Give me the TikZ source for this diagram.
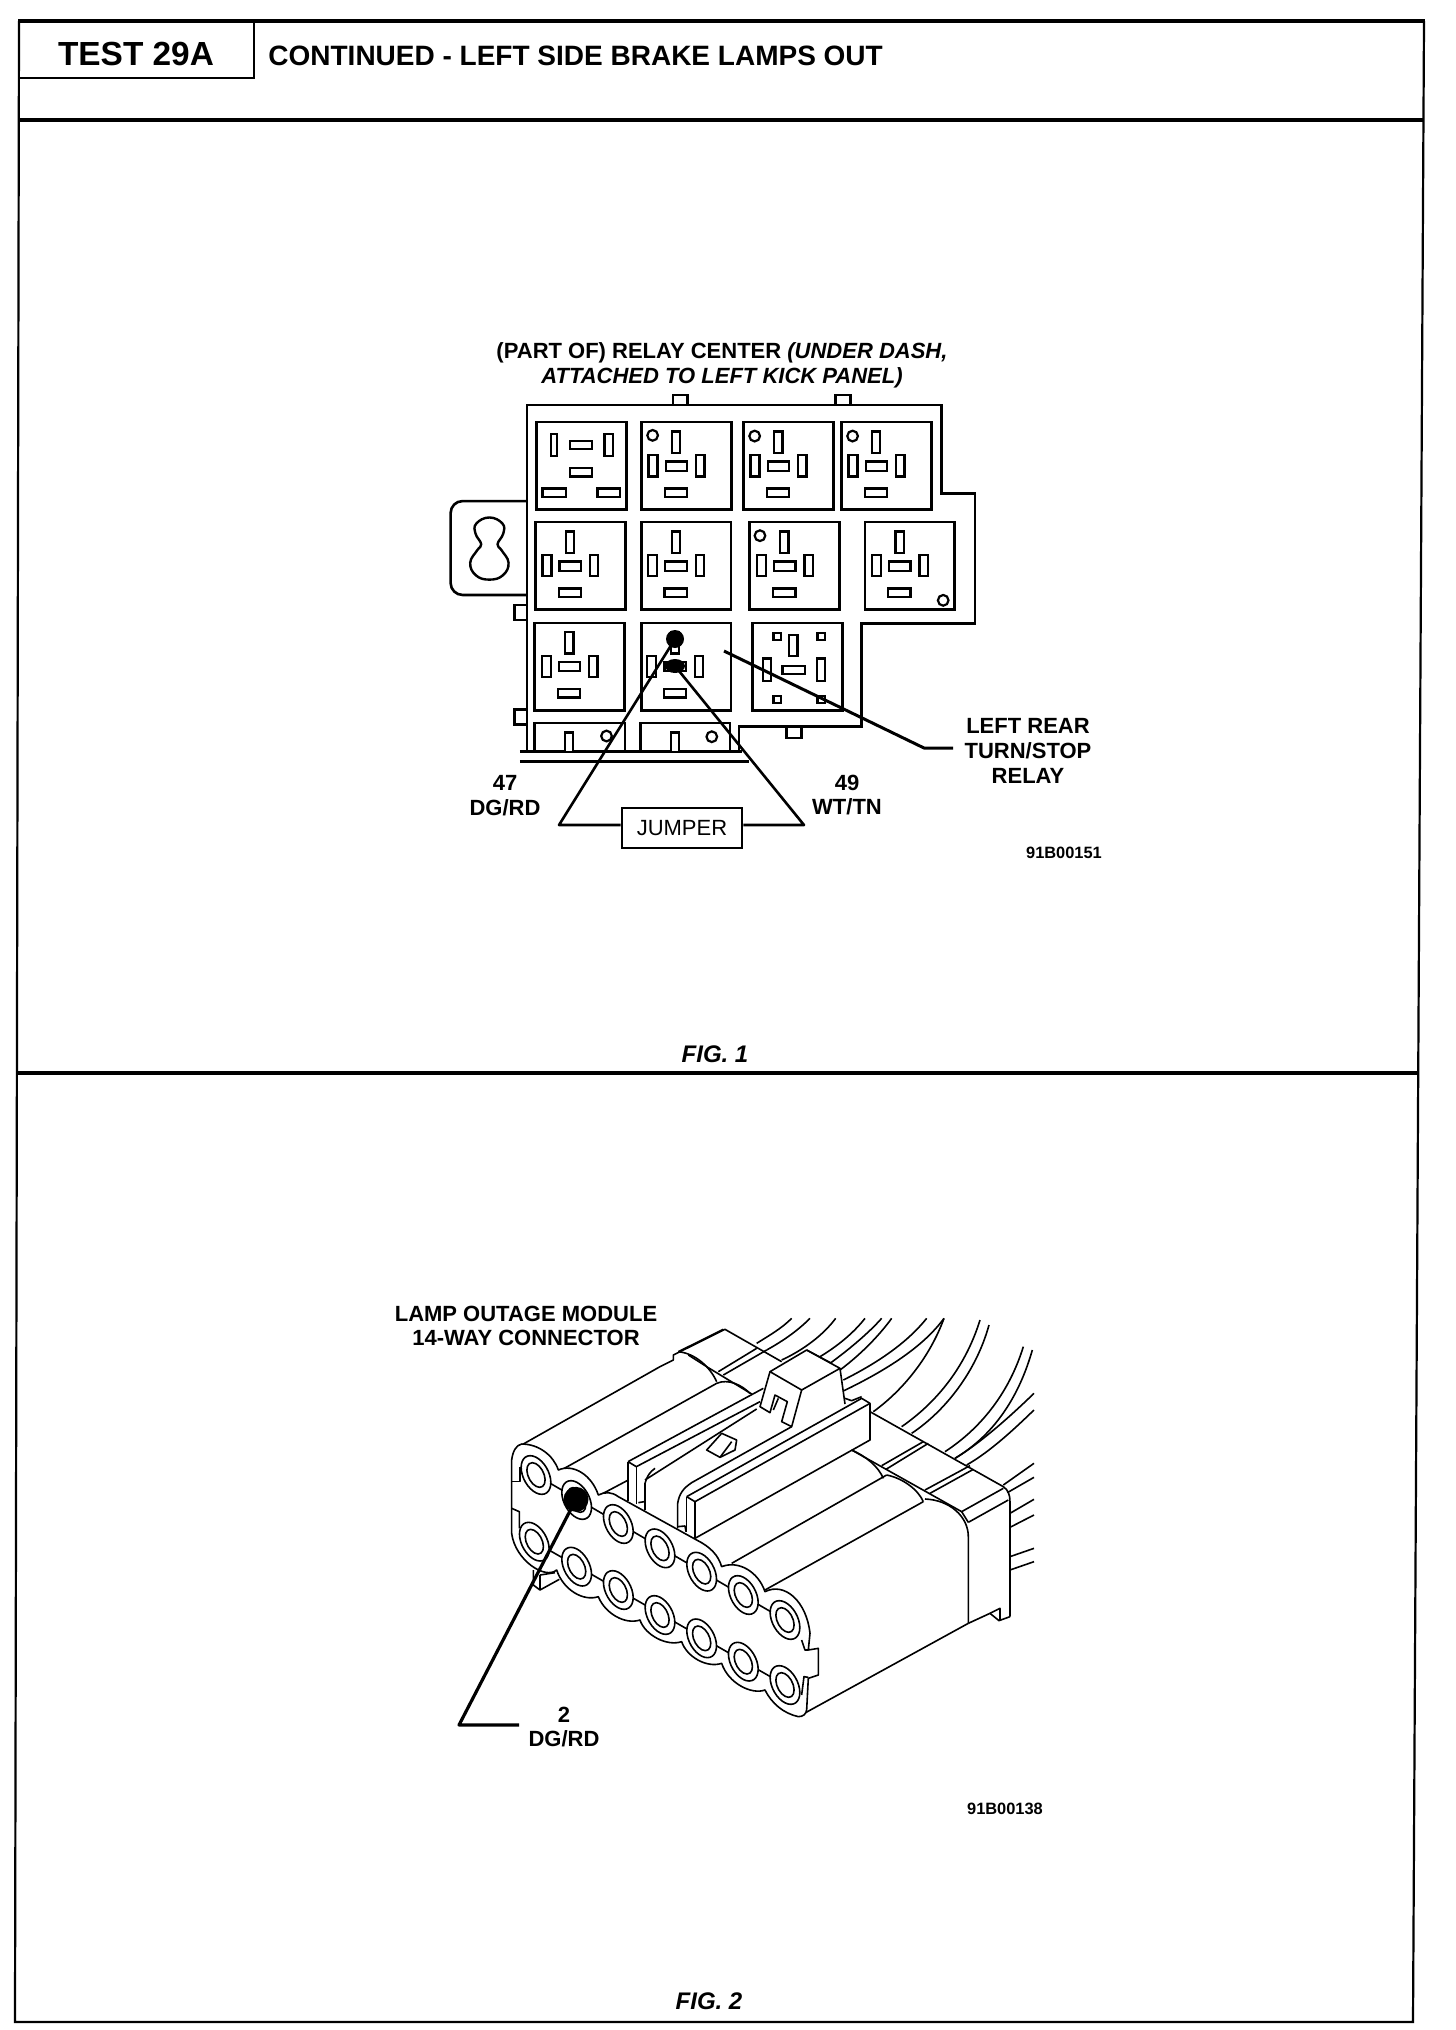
\documentclass[tikz,border=0pt]{standalone}
\usepackage{fontspec}
\usetikzlibrary{shapes.geometric}
\setmainfont{Liberation Sans}
\newcommand\relaypins[2]{%
  \begin{scope}[shift={(#1,#2)}]
    \draw[pinline] (75,26) rectangle (95,86);
    \draw[pinline] (17,92) rectangle (39,152);
    \draw[pinline] (59,110) rectangle (112,136);
    \draw[pinline] (134,92) rectangle (154,152);
    \draw[pinline] (57,186) rectangle (112,209);
  \end{scope}}
\newcommand\relayframe[2]{\draw[boxline] (#1,#2) rectangle ++(220,245);}
\newcommand\hole[2]{\draw[pinline] (#1,#2) circle [x radius=13,y radius=15];}
\newcommand\term[2]{%
  \begin{scope}[shift={(#1,#2)},xslant=-0.3]
    \draw[thin line,fill=white] (0,0) ellipse [x radius=41,y radius=58];
    \draw[thin line,fill=white] (0,0) ellipse [x radius=25,y radius=37];
  \end{scope}}
\tikzset{
  boxline/.style={line width=1.3pt,line join=miter},
  pinline/.style={line width=1.1pt,fill=white},
  thin line/.style={line width=0.8pt,line join=round},
  frameline/.style={line width=1.1pt},
  heavyrule/.style={line width=1.6pt},
  label/.style={font=\fontsize{11}{12.4}\selectfont\bfseries,align=center,inner sep=0pt},
  idtext/.style={font=\fontsize{8.2}{9}\selectfont\bfseries,inner sep=0pt},
  figtext/.style={font=\fontsize{12}{14}\selectfont\bfseries\itshape,inner sep=0pt},
  leader/.style={line width=1.3pt,line join=round},
}
\begin{document}
\begin{tikzpicture}[x=0.5pt,y=-0.5pt]
\path[use as bounding box,fill=white] (0,0) rectangle (1456,2030);
% page frame
\draw[frameline] (19,21) -- (15,2022) -- (1413,2022) -- (1424,21);
\draw[heavyrule] (18,21) -- (1425,21);
\draw[heavyrule] (18,120) -- (1423,120);
\draw[heavyrule] (16,1073) -- (1417,1073);
\draw[line width=1pt] (19,78) -- (254,78) -- (254,21);
\node[font=\fontsize{16.7}{18}\selectfont\bfseries,inner sep=0pt] (testno) at (136,54) {TEST 29A};
\node[font=\fontsize{14}{15}\selectfont\bfseries,anchor=west,inner sep=0pt] (title) at (268,56) {CONTINUED - LEFT SIDE BRAKE LAMPS OUT};
% FIG 1 texts
\node[label] (relaycenter) at (722,365) {(PART OF) RELAY CENTER \textit{(UNDER DASH,}\\\textit{ATTACHED TO LEFT KICK PANEL)}};
\node[label] (n47) at (505,796) {47\\DG/RD};
\node[label] (n49) at (847,795) {49\\WT/TN};
\node[label] (lrtext) at (1028,751) {LEFT REAR\\TURN/STOP\\RELAY};
\node[idtext] (id1) at (1064,853) {91B00151};
\node[figtext] (fig1) at (715,1054) {FIG. 1};
% relay centre, reference coordinates of the enlarged view
\begin{scope}[shift={(420,320)},x=0.5pt/2.45,y=-0.5pt/2.8]
  \draw[boxline] (620,238) |- (655,210) -- (655,238);
  \draw[boxline] (1018,238) |- (1055,210) -- (1055,238);
  \draw[boxline] (262,798) -| (232,840) -- (262,840);
  \draw[boxline] (262,1090) -| (232,1132) -- (262,1132);
  \draw[boxline] (898,1138) |- (935,1170) -- (935,1138);
  \draw[boxline,rounded corners=6pt] (262,507) -- (75,507) -- (75,770) -- (262,770);
  \draw[line width=1.2pt] plot[smooth cycle,tension=.75] coordinates {(150,628) (136,598) (138,570) (170,553) (202,570) (204,598) (190,628) (200,645) (217,680) (203,715) (170,727) (137,715) (123,680) (140,645)};
  \draw[boxline] (262,1208) -- (262,238) -- (1278,238) -- (1278,486) -- (1360,486) -- (1360,850) -- (1082,850) -- (1082,1138) -- (782,1138) -- (782,1208);
  \draw[boxline] (245,1208) -- (790,1208);
  \draw[boxline] (245,1236) -- (805,1236);
  % relay cavities
  \relayframe{286}{286}
  \draw[pinline] (320,320) rectangle (336,380);
  \draw[pinline] (368,338) rectangle (422,362);
  \draw[pinline] (452,320) rectangle (472,380);
  \draw[pinline] (368,415) rectangle (422,438);
  \draw[pinline] (300,472) rectangle (357,495);
  \draw[pinline] (435,472) rectangle (490,495);
  \relayframe{543}{286} \relaypins{543}{286} \hole{570}{323}
  \relayframe{793}{286} \relaypins{793}{286} \hole{820}{325}
  \relayframe{1033}{286} \relaypins{1033}{286} \hole{1060}{325}
  \relayframe{283}{566} \relaypins{283}{566}
  \relayframe{542}{566} \relaypins{542}{566}
  \relayframe{808}{566} \relaypins{808}{566} \hole{833}{604}
  \relayframe{1090}{566} \relaypins{1090}{566} \hole{1282}{785}
  \relayframe{281}{848} \relaypins{281}{848}
  \relayframe{542}{848} \relaypins{540}{848}
  \relayframe{815}{848}
  \draw[pinline] (866,876) rectangle (884,896);
  \draw[pinline] (974,876) rectangle (992,896);
  \draw[pinline] (866,1053) rectangle (884,1073);
  \draw[pinline] (974,1053) rectangle (992,1073);
  \draw[pinline] (905,882) rectangle (925,942);
  \draw[pinline] (840,948) rectangle (860,1010);
  \draw[pinline] (888,968) rectangle (943,992);
  \draw[pinline] (972,948) rectangle (992,1010);
  \draw[boxline] (281,1208) |- (502,1128) -- (502,1208);
  \draw[pinline] (355,1208) |- (375,1155) -- (375,1208);
  \hole{457}{1165}
  \draw[boxline] (541,1208) |- (760,1128) -- (760,1208);
  \draw[pinline] (615,1208) |- (635,1155) -- (635,1208);
  \hole{715}{1167}
\end{scope}
% jumper
\node[draw,line width=1.3pt,minimum width=60pt,minimum height=20pt,inner sep=0pt,font=\fontsize{11}{12}\selectfont] (jumper) at (682,828) {JUMPER};
\node[circle,fill=black,minimum size=9pt,inner sep=0pt] (dotA) at (675,639) {};
\node[ellipse,fill=black,minimum width=10pt,minimum height=7pt,inner sep=0pt] (dotB) at (675,666) {};
\coordinate (jl) at (559,825);
\coordinate (jr) at (804,825);
\draw[leader] (dotA.center) -- (jl) -- (jumper.west |- jl);
\draw[leader] (dotB.center) -- (jr) -- (jumper.east |- jr);
\coordinate (la) at (724,651);
\coordinate (lb) at (924,748);
\coordinate (lc) at (953,748);
\draw[leader,line width=1.5pt] (la) -- (lb) -- (lc);
% FIG 2 texts
\node[label] (lom) at (526,1326) {LAMP OUTAGE MODULE\\14-WAY CONNECTOR};
\node[label] (n2) at (564,1727) {2\\DG/RD};
\node[idtext] (id2) at (1005,1809) {91B00138};
\node[figtext] (fig2) at (709,2001) {FIG. 2};
% connector: rear part
\begin{scope}[shift={(660,1300)},x=0.5pt/3,y=-0.5pt/3,thin line]
  % wires
  \draw (290,130) .. controls (330,105) and (365,85) .. (395,55);
  \draw (320,150) .. controls (365,125) and (410,95) .. (450,55);
  \draw (365,180) .. controls (430,150) and (490,105) .. (527,55);
  \draw (480,170) .. controls (530,140) and (580,100) .. (615,55);
  \draw (510,190) .. controls (565,150) and (625,100) .. (665,55);
  \draw (540,210) .. controls (600,165) and (655,110) .. (695,55);
  \draw (550,240) .. controls (650,190) and (740,130) .. (800,55);
  \draw (552,272) .. controls (680,210) and (790,140) .. (852,55);
  \draw (640,335) .. controls (730,270) and (810,170) .. (852,55);
  \draw (725,380) .. controls (840,300) and (920,190) .. (960,60);
  \draw (755,400) .. controls (860,330) and (950,210) .. (987,75);
  \draw (855,455) .. controls (970,380) and (1050,270) .. (1090,140);
  \draw (885,475) .. controls (1010,400) and (1080,280) .. (1117,150);
  \draw (885,475) .. controls (960,430) and (1050,350) .. (1122,280);
  \draw (920,495) .. controls (990,455) and (1060,390) .. (1122,330);
  \draw (1030,555) -- (1122,490);
  \draw (1042,578) -- (1122,532);
  \draw (1050,640) -- (1122,598);
  \draw (1050,682) -- (1122,645);
  \draw (1050,770) -- (1122,745);
  \draw (1050,810) -- (1122,785);
  % top ridge and shoulder
  \draw (-410,432) -- (0,200) -- (40,180) -- (40,165) -- (195,88) -- (365,185);
  \draw (55,155) -- (190,88);
  \draw (55,155) .. controls (105,160) and (150,200) .. (170,245);
  \draw (85,165) -- (140,200) -- (275,282);
  \draw (175,215) -- (290,145);
  \draw (190,225) -- (320,150);
  \draw (-305,515) -- (0,345) -- (170,250) .. controls (205,235) and (245,255) .. (270,280);
  % latch
  \draw (330,215) -- (440,150) -- (540,205) -- (425,270) -- cycle;
  \draw (440,150) -- (515,190);
  \draw (330,215) -- (300,320) -- (330,338) -- (345,285) -- (382,305) -- (365,365) -- (395,380) -- (425,270);
  \draw (355,295) -- (340,330);
  \draw (540,205) -- (555,312);
  \draw (555,295) -- (575,302) -- (605,290);
  % first rail
  \draw (-96,485) -- (310,265);
  \draw (-96,485) -- (-71,500) -- (300,305);
  \draw (-45,540) -- (290,327);
  \draw (-96,485) -- (-96,602);
  \draw (-71,500) -- (-71,612);
  % diamond
  \draw (140,450) -- (185,400) -- (230,420) -- (225,450) -- (180,472) -- cycle;
  \draw (180,472) -- (215,425);
  % second rail
  \draw (80,590) -- (605,295) -- (630,310) -- (630,420) -- (105,715);
  \draw (80,590) -- (105,605) -- (630,310);
  \draw (80,590) -- (80,695);
  \draw (105,605) -- (105,715);
  \draw (53,685) -- (53,610) .. controls (58,580) and (70,565) .. (95,548) -- (395,380);
  \draw (53,680) -- (75,678) -- (78,695);
  % body
  \draw (215,790) -- (680,525);
  \draw (315,870) -- (790,605);
  \draw (575,450) .. controls (620,470) and (655,500) .. (670,535);
  \draw (680,525) .. controls (730,535) and (775,570) .. (790,605);
  \draw (575,450) -- (905,635);
  \draw (665,497) -- (790,425);
  \draw (678,508) -- (805,430);
  \draw (795,570) -- (930,497);
  \draw (810,580) -- (940,508);
  \draw (630,335) -- (1030,560) .. controls (1045,570) and (1050,585) .. (1050,605) -- (1050,950);
  \draw (795,597) .. controls (870,600) and (925,650) .. (925,710) -- (925,970);
  \draw (905,635) -- (1030,565);
  \draw (925,667) -- (1045,600);
  \draw (905,635) -- (925,667);
  % foot and lower edge
  \draw (925,970) -- (990,940) -- (1017,962) -- (1050,950);
  \draw (990,940) -- (1020,925) -- (1020,960);
  \draw (925,970) -- (435,1239);
\end{scope}
% connector: front face
\begin{scope}[shift={(490,1420)},x=0.5pt/3,y=-0.5pt/3,thin line]
  \draw (330,225) -- (415,180);
  \draw (415,125) -- (415,240);
  \draw (440,140) -- (440,250);
  \draw (465,270) -- (465,190) .. controls (470,170) and (480,155) .. (495,145);
  \draw (445,248) -- (462,245);
  \draw (130,450) -- (130,495) -- (150,510) -- (208,478);
  \draw (150,465) -- (150,510);
  \draw (150,465) -- (195,458);
  \draw[fill=white] (95,72)
    .. controls (145,72) and (190,105) .. (205,150)
    .. controls (250,130) and (305,165) .. (325,225)
    .. controls (345,215) and (365,215) .. (385,230)
    -- (620,360) .. controls (660,380) and (685,405) .. (695,440)
    .. controls (745,420) and (805,455) .. (825,515)
    .. controls (885,485) and (950,545) .. (960,640)
    -- (955,690) -- (985,685) -- (985,765) -- (955,775) -- (950,870)
    .. controls (948,882) and (940,890) .. (925,890)
    .. controls (880,880) and (845,850) .. (825,810)
    .. controls (785,825) and (715,790) .. (695,730)
    .. controls (650,745) and (590,710) .. (575,665)
    .. controls (530,680) and (465,645) .. (450,600)
    .. controls (405,615) and (345,580) .. (325,530)
    .. controls (280,545) and (220,510) .. (200,450)
    .. controls (165,480) and (75,420) .. (65,340)
    -- (65,120) .. controls (68,95) and (78,75) .. (95,72) -- cycle;
  \draw (90,140) -- (90,185) -- (65,185);
  \draw (65,265) -- (88,275) -- (88,325);
  \draw (935,660) -- (945,690) -- (955,690);
  \draw (935,825) -- (942,770) -- (955,772);
  \draw (138,165) -- (885,600);
  \draw (133,365) -- (885,795);
  \term{138}{165}\term{260}{240}\term{385}{312}\term{510}{385}\term{635}{455}\term{760}{525}\term{885}{600}
  \term{133}{365}\term{260}{440}\term{385}{510}\term{510}{585}\term{635}{655}\term{760}{725}\term{885}{795}
  \node[ellipse,fill=black,minimum width=12.5pt,minimum height=12.5pt,inner sep=0pt] (pin2) at (258,238) {};
\end{scope}
\coordinate (pa) at (459,1725);
\coordinate (pb) at (519,1725);
\draw[leader,line width=1.6pt] (pin2.center) -- (pa) -- (pb);
\end{tikzpicture}
\end{document}
